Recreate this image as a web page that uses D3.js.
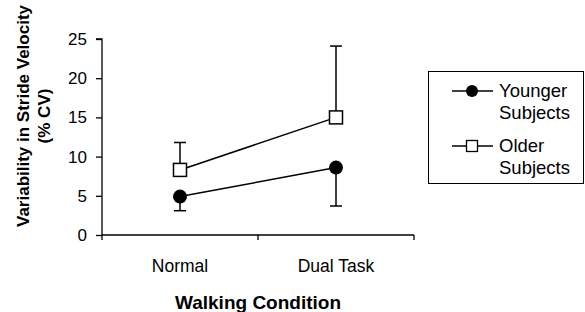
<!DOCTYPE html>
<html>
<head>
<meta charset="utf-8">
<script src="https://cdn.jsdelivr.net/npm/d3@7"></script>
<style>
  body { margin: 0; background: #fff; }
  text { font-family: Arial, "Liberation Sans", sans-serif; fill: #000; }
</style>
</head>
<body>
<svg id="chart" width="585" height="312"></svg>
<script>
// walking conditions on the x axis
var conditions = ["Normal", "Dual Task"];
// mean variability (% CV) per group
var youngerMean = [4.9, 8.6];
var olderMean = [8.3, 15.0];
// one-sided error bars (SD); younger drawn down, older drawn up
var youngerSD = [1.8, 4.9];
var olderSD = [3.5, 9.1];
var yTicks = [0, 5, 10, 15, 20, 25];

var svg = d3.select("#chart");

var x = d3.scaleBand()
	.domain(conditions)
	.range([102, 414]);
var y = d3.scaleLinear()
	.domain([0, 25])
	.range([235, 39]);

// y axis
var yAxis = svg.append("g")
	.attr("transform", "translate(102,0)")
	.call(d3.axisLeft(y).tickValues(yTicks).tickSize(6).tickPadding(9));
yAxis.select(".domain").attr("stroke", "#000").attr("stroke-width", 1.3).attr("d", "M-6," + y(25) + "H0V" + y(0));
yAxis.selectAll(".tick line").attr("stroke-width", 1.3);
yAxis.selectAll(".tick text").style("font-size", "17px").attr("font-family", null);

// x axis with tick marks on the band edges
var xAxis = svg.append("g")
	.attr("transform", "translate(0,235)");
xAxis.append("line")
	.attr("x1", 102).attr("x2", 414)
	.attr("stroke", "#000").attr("stroke-width", 1.3);
xAxis.selectAll(".edge")
	.data([0, 1, 2])
	.enter().append("line")
	.attr("x1", function(d) { return x.range()[0] + d * x.bandwidth(); })
	.attr("x2", function(d) { return x.range()[0] + d * x.bandwidth(); })
	.attr("y1", 0).attr("y2", 5)
	.attr("stroke", "#000").attr("stroke-width", 1.3);
xAxis.selectAll(".cat")
	.data(conditions)
	.enter().append("text")
	.attr("x", function(d) { return x(d) + x.bandwidth() / 2; })
	.attr("y", 37)
	.attr("text-anchor", "middle")
	.style("font-size", "17.5px")
	.text(function(d) { return d; });

// axis titles
svg.append("text")
	.attr("x", 258).attr("y", 309)
	.attr("text-anchor", "middle")
	.style("font-size", "19px").style("font-weight", "bold")
	.text("Walking Condition");
var yTitle = svg.append("text")
	.attr("transform", "translate(29,116) rotate(-90)")
	.attr("text-anchor", "middle")
	.style("font-size", "17px").style("font-weight", "bold");
yTitle.append("tspan").attr("x", 0).attr("y", 0).text("Variability in Stride Velocity");
yTitle.append("tspan").attr("x", 0).attr("y", 21).text("(% CV)");

var cx = function(i) { return x(conditions[i]) + x.bandwidth() / 2; };

// error bars
function errorBars(means, sds, dir) {
	var g = svg.append("g").attr("stroke", "#000").attr("stroke-width", 1.5);
	means.forEach(function(m, i) {
		var end = m + dir * sds[i];
		g.append("line")
			.attr("x1", cx(i)).attr("x2", cx(i))
			.attr("y1", y(m)).attr("y2", y(end));
		g.append("line")
			.attr("x1", cx(i) - 6).attr("x2", cx(i) + 6)
			.attr("y1", y(end)).attr("y2", y(end));
	});
}
errorBars(olderMean, olderSD, 1);
errorBars(youngerMean, youngerSD, -1);

// series lines
var line = d3.line()
	.x(function(d, i) { return cx(i); })
	.y(function(d) { return y(d); });
[youngerMean, olderMean].forEach(function(s) {
	svg.append("path")
		.attr("d", line(s))
		.attr("fill", "none")
		.attr("stroke", "#000")
		.attr("stroke-width", 1.5);
});

// markers
svg.selectAll(".younger")
	.data(youngerMean)
	.enter().append("circle")
	.attr("cx", function(d, i) { return cx(i); })
	.attr("cy", function(d) { return y(d); })
	.attr("r", 7)
	.attr("fill", "#000");
svg.selectAll(".older")
	.data(olderMean)
	.enter().append("rect")
	.attr("x", function(d, i) { return cx(i) - 6.5; })
	.attr("y", function(d) { return y(d) - 6.5; })
	.attr("width", 13).attr("height", 13)
	.attr("fill", "#fff")
	.attr("stroke", "#000")
	.attr("stroke-width", 1.5);

// legend
var legend = svg.append("g");
legend.append("rect")
	.attr("x", 428.5).attr("y", 71.5)
	.attr("width", 155).attr("height", 112)
	.attr("fill", "#fff").attr("stroke", "#000").attr("stroke-width", 1);
var items = [
	{ label: ["Younger", "Subjects"], shape: "circle", y: 91 },
	{ label: ["Older", "Subjects"], shape: "square", y: 146 }
];
items.forEach(function(it) {
	legend.append("line")
		.attr("x1", 452).attr("x2", 493)
		.attr("y1", it.y).attr("y2", it.y)
		.attr("stroke", "#000").attr("stroke-width", 1.5);
	if (it.shape === "circle") {
		legend.append("circle").attr("cx", 472).attr("cy", it.y).attr("r", 6).attr("fill", "#000");
	} else {
		legend.append("rect")
			.attr("x", 466.5).attr("y", it.y - 5.5)
			.attr("width", 11).attr("height", 11)
			.attr("fill", "#fff").attr("stroke", "#000").attr("stroke-width", 1.3);
	}
	var t = legend.append("text").style("font-size", "18.5px");
	t.append("tspan").attr("x", 499).attr("y", it.y + 6).text(it.label[0]);
	t.append("tspan").attr("x", 499).attr("y", it.y + 28).text(it.label[1]);
});
</script>
</body>
</html>
